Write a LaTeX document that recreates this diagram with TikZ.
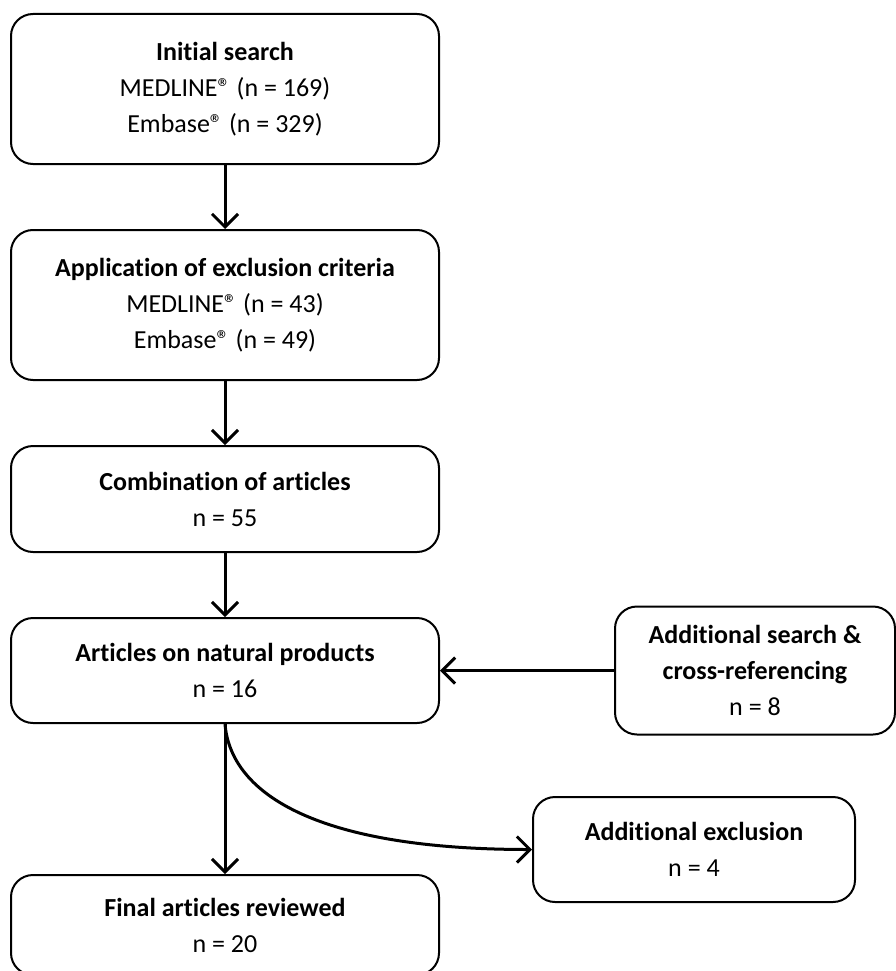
\documentclass[tikz,border=0pt]{standalone}
\usepackage{fontspec}
\setmainfont{Carlito}[Ligatures={NoCommon,NoContextual}]
\usepackage{tikz}
\usetikzlibrary{arrows.meta,positioning}
\newcommand{\regmark}{®}
\tikzset{
  stepbox/.style={draw, rounded corners=22pt, line width=2pt,
                  minimum width=428pt, inner sep=0pt, align=center,
                  font=\fontsize{26}{36}\selectfont},
  sidebox/.style={stepbox, minimum width=280pt},
  flow/.style={-{Straight Barb[length=13pt,width=26pt]}, line width=3pt},
}
\begin{document}
\begin{tikzpicture}[x=1pt, y=-1pt, node distance=64pt and 174pt]
  \useasboundingbox (0,0) rectangle (896,971);
  \node[stepbox, minimum height=150pt] (init) at (225,89)
    {\textbf{Initial search}\\MEDLINE\regmark{} (n = 169)\\Embase\regmark{} (n = 329)};
  \node[stepbox, minimum height=150pt, below=of init] (crit)
    {\textbf{Application of exclusion criteria}\\MEDLINE\regmark{} (n = 43)\\Embase\regmark{} (n = 49)};
  \node[stepbox, minimum height=106pt, below=of crit] (comb)
    {\textbf{Combination of articles}\\n = 55};
  \node[stepbox, minimum height=105pt, below=of comb] (nat)
    {\textbf{Articles on natural products}\\n = 16};
  \node[sidebox, minimum height=128pt, right=of nat] (addl)
    {\textbf{Additional search \&}\\\textbf{cross-referencing}\\n = 8};
  \node[stepbox, minimum height=100pt, below=150pt of nat] (final)
    {\textbf{Final articles reviewed}\\n = 20};
  \node[sidebox, minimum width=322pt, minimum height=105pt] (drop) at (694,849.5)
    {\textbf{Additional exclusion}\\n = 4};

  \draw[flow] (init) -- (crit);
  \draw[flow] (crit) -- (comb);
  \draw[flow] (comb) -- (nat);
  \draw[flow] (addl) -- (nat);
  \draw[flow] (nat) -- (final);
  \draw[flow] (nat.south) .. controls +(6,72) and +(-211,0) .. (drop.west);
\end{tikzpicture}
\end{document}
